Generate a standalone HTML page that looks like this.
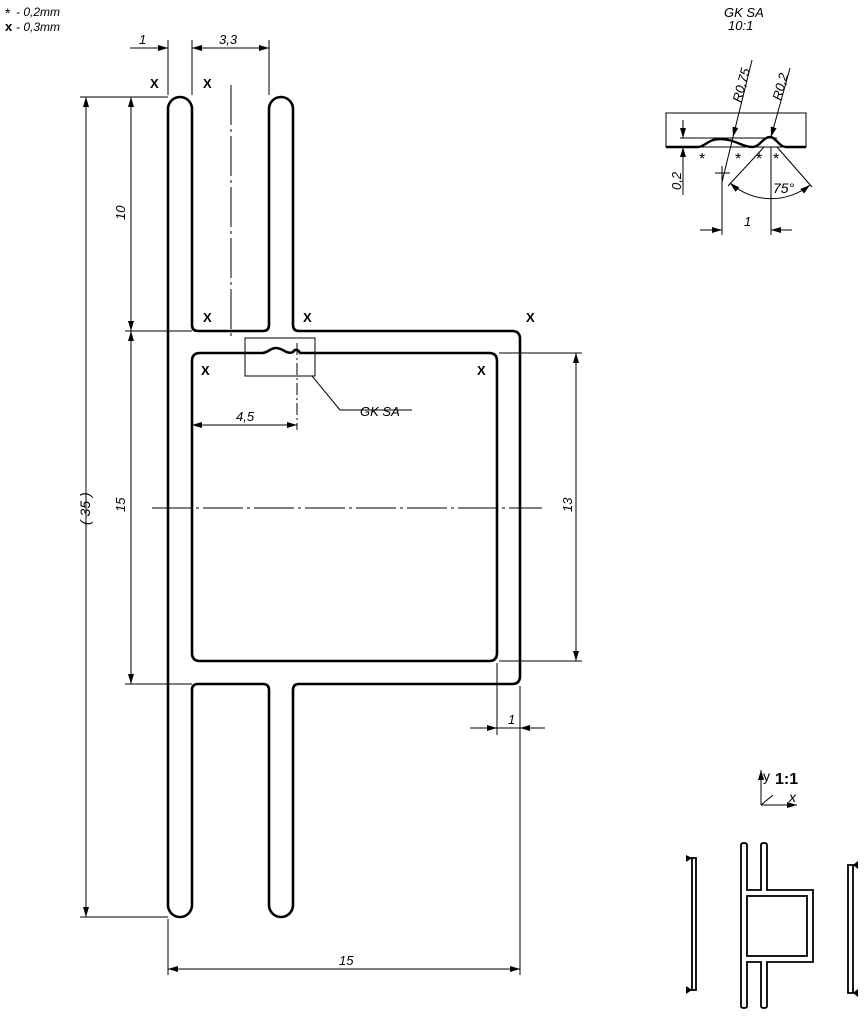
<!DOCTYPE html>
<html><head><meta charset="utf-8"><style>
html,body{margin:0;padding:0;background:#fff;}
svg{display:block;}
text{font-family:"Liberation Sans",sans-serif;font-style:italic;fill:#000;}
.x{font-style:normal;font-weight:bold;font-size:13px;}
</style></head><body>
<svg width="867" height="1029" viewBox="0 0 867 1029" xmlns="http://www.w3.org/2000/svg">
<defs>
<marker id="a" viewBox="0 0 10 6" refX="10" refY="3" markerWidth="10" markerHeight="6" orient="auto-start-reverse" markerUnits="userSpaceOnUse"><path d="M0,0 L10,3 L0,6 z" fill="#000"/></marker>
</defs>
<!-- legend -->
<text x="5" y="18" font-size="14" style="font-style:normal">*</text>
<text x="16" y="16" font-size="12">- 0,2mm</text>
<text x="5" y="31" font-size="13" style="font-style:normal;font-weight:bold">x</text>
<text x="16" y="31" font-size="12">- 0,3mm</text>

<!-- main profile -->
<g fill="none" stroke="#000" stroke-width="2.6" stroke-linejoin="round">
<path d="M168,109 A12,12 0 0 1 192,109 L192,325 Q192,331 198,331 L263,331 Q269,331 269,325 L269,109 A12,12 0 0 1 293,109 L293,325 Q293,331 299,331 L512,331 Q520,331 520,339 L520,676 Q520,684 512,684 L299,684 Q293,684 293,690 L293,905 A12,12 0 0 1 269,905 L269,690 Q269,684 263,684 L198,684 Q192,684 192,690 L192,905 A12,12 0 0 1 168,905 Z"/>
<path d="M192,361 Q192,353 200,353 L262,353 C268,353 270,348 276,348 C283,348 287,355 293,352 C295,349 298,349 300,353 L489,353 Q497,353 497,361 L497,653 Q497,661 489,661 L200,661 Q192,661 192,653 Z"/>
</g>

<g stroke="#000" stroke-width="1" fill="none">
<line x1="231" y1="85" x2="231" y2="336" stroke-dasharray="40,4,3,4"/>
<line x1="152" y1="508" x2="542" y2="508" stroke-dasharray="40,4,3,4"/>
<line x1="297" y1="343" x2="297" y2="430" stroke-dasharray="12,3,2,3"/>
<line x1="168" y1="40" x2="168" y2="95"/>
<line x1="192" y1="40" x2="192" y2="95"/>
<line x1="269" y1="40" x2="269" y2="95"/>
<line x1="130" y1="48" x2="168" y2="48" marker-end="url(#a)"/>
<line x1="192" y1="48" x2="269" y2="48" marker-start="url(#a)" marker-end="url(#a)"/>
<line x1="80" y1="97" x2="168" y2="97"/>
<line x1="80" y1="917" x2="168" y2="917"/>
<line x1="125" y1="331" x2="192" y2="331"/>
<line x1="125" y1="684" x2="192" y2="684"/>
<line x1="86" y1="97" x2="86" y2="917" marker-start="url(#a)" marker-end="url(#a)"/>
<line x1="131" y1="97" x2="131" y2="331" marker-start="url(#a)" marker-end="url(#a)"/>
<line x1="131" y1="331" x2="131" y2="684" marker-start="url(#a)" marker-end="url(#a)"/>
<line x1="499" y1="353" x2="582" y2="353"/>
<line x1="499" y1="661" x2="582" y2="661"/>
<line x1="576" y1="353" x2="576" y2="661" marker-start="url(#a)" marker-end="url(#a)"/>
<line x1="497" y1="663" x2="497" y2="735"/>
<line x1="520" y1="686" x2="520" y2="975"/>
<line x1="470" y1="728" x2="497" y2="728" marker-end="url(#a)"/>
<line x1="545" y1="728" x2="520" y2="728" marker-end="url(#a)"/>
<line x1="497" y1="728" x2="520" y2="728"/>
<line x1="168" y1="919" x2="168" y2="975"/>
<line x1="168" y1="969" x2="520" y2="969" marker-start="url(#a)" marker-end="url(#a)"/>
<line x1="192" y1="425" x2="297" y2="425" marker-start="url(#a)" marker-end="url(#a)"/>
<rect x="245" y="338" width="70" height="38"/>
<line x1="312" y1="376" x2="340" y2="410"/>
<line x1="340" y1="410" x2="412" y2="410"/>
</g>
<text x="139" y="44" font-size="13">1</text>
<text x="219" y="44" font-size="13">3,3</text>
<text x="236" y="421" font-size="13">4,5</text>
<text x="360" y="416" font-size="13">GK  SA</text>
<text x="339" y="965" font-size="13">15</text>
<text x="508" y="724" font-size="13">1</text>
<text font-size="13" transform="translate(125,220) rotate(-90)">10</text>
<text font-size="13" transform="translate(125,512) rotate(-90)">15</text>
<text font-size="14" transform="translate(90,525) rotate(-90)">( 35 )</text>
<text font-size="13" transform="translate(572,512) rotate(-90)">13</text>
<g class="x">
<text x="150" y="88" class="x">X</text>
<text x="203" y="88" class="x">X</text>
<text x="203" y="322" class="x">X</text>
<text x="303" y="322" class="x">X</text>
<text x="526" y="322" class="x">X</text>
<text x="201" y="375" class="x">X</text>
<text x="477" y="375" class="x">X</text>
</g>

<!-- detail GK SA -->
<text x="724" y="17" font-size="13">GK  SA</text>
<text x="728" y="30" font-size="13">10:1</text>
<g fill="none" stroke="#000" stroke-width="1">
<rect x="666" y="113" width="140" height="34"/>
<line x1="680" y1="138" x2="777" y2="138"/>
<line x1="683" y1="120" x2="683" y2="138" marker-end="url(#a)"/>
<line x1="683" y1="195" x2="683" y2="147" marker-end="url(#a)"/>
<line x1="752" y1="60" x2="733" y2="137" marker-end="url(#a)"/>
<line x1="733" y1="137" x2="722" y2="182"/>
<line x1="790" y1="68" x2="771" y2="137" marker-end="url(#a)"/>
<line x1="715" y1="173" x2="730" y2="173"/>
<line x1="722" y1="166" x2="722" y2="235"/>
<line x1="771" y1="147" x2="771" y2="235"/>
<line x1="700" y1="230" x2="722" y2="230" marker-end="url(#a)"/>
<line x1="792" y1="230" x2="771" y2="230" marker-end="url(#a)"/>
<line x1="777" y1="147" x2="812" y2="187"/>
<line x1="764" y1="147" x2="728" y2="186"/>
<path d="M730,183 A62,62 0 0 0 810,185" marker-start="url(#a)" marker-end="url(#a)"/>
</g>
<path d="M666,147 L698,147 C705,147 708,139 720,139 C735,139 742,147 752,147 C760,147 763,137 770,137 C776,137 779,147 786,147 L806,147" fill="none" stroke="#000" stroke-width="2.4"/>
<text x="699" y="164" font-size="16" style="font-style:normal">*</text>
<text x="735" y="164" font-size="16" style="font-style:normal">*</text>
<text x="756" y="164" font-size="16" style="font-style:normal">*</text>
<text x="773" y="164" font-size="16" style="font-style:normal">*</text>
<text x="773" y="193" font-size="14">75°</text>
<text x="744" y="226" font-size="13">1</text>
<text font-size="13" transform="translate(681,190) rotate(-90)">0,2</text>
<text font-size="13" transform="translate(741,103) rotate(-75)">R0,75</text>
<text font-size="13" transform="translate(781,101) rotate(-75)">R0,2</text>

<!-- axis + 1:1 -->
<g fill="none" stroke="#000" stroke-width="1">
<line x1="761" y1="805" x2="761" y2="770" marker-end="url(#a)"/>
<line x1="761" y1="805" x2="797" y2="805" marker-end="url(#a)"/>
<line x1="761" y1="805" x2="773" y2="795"/>
</g>
<text x="763" y="781" font-size="14" style="font-style:normal">y</text>
<text x="775" y="784" font-size="16" style="font-style:normal;font-weight:bold">1:1</text>
<text x="789" y="802" font-size="14">x</text>

<!-- small profile -->
<g fill="none" stroke="#000" stroke-width="1.8">
<path d="M741,845 Q741,843 744,843 Q747,843 747,845 L747,890 L761,890 L761,845 Q761,843 764,843 Q767,843 767,845 L767,890 L813,890 L813,962 L767,962 L767,1006 Q767,1008 764,1008 Q761,1008 761,1006 L761,962 L747,962 L747,1006 Q747,1008 744,1008 Q741,1008 741,1006 Z"/>
<rect x="747" y="896" width="60" height="60"/>
<path d="M692,858 L696,858 L696,990 L692,990 Z M686,858 L692,858 M686,990 L692,990"/>
<path d="M848,865 L853,865 L853,993 L848,993 Z M853,865 L858,865 M853,993 L858,993"/>
</g>
<path d="M686,855 L692,858 L686,862 Z M686,986 L692,990 L686,994 Z" fill="#000"/>
<path d="M858,861 L853,865 L858,869 Z M858,989 L853,993 L858,997 Z" fill="#000"/>
</svg>
</body></html>
